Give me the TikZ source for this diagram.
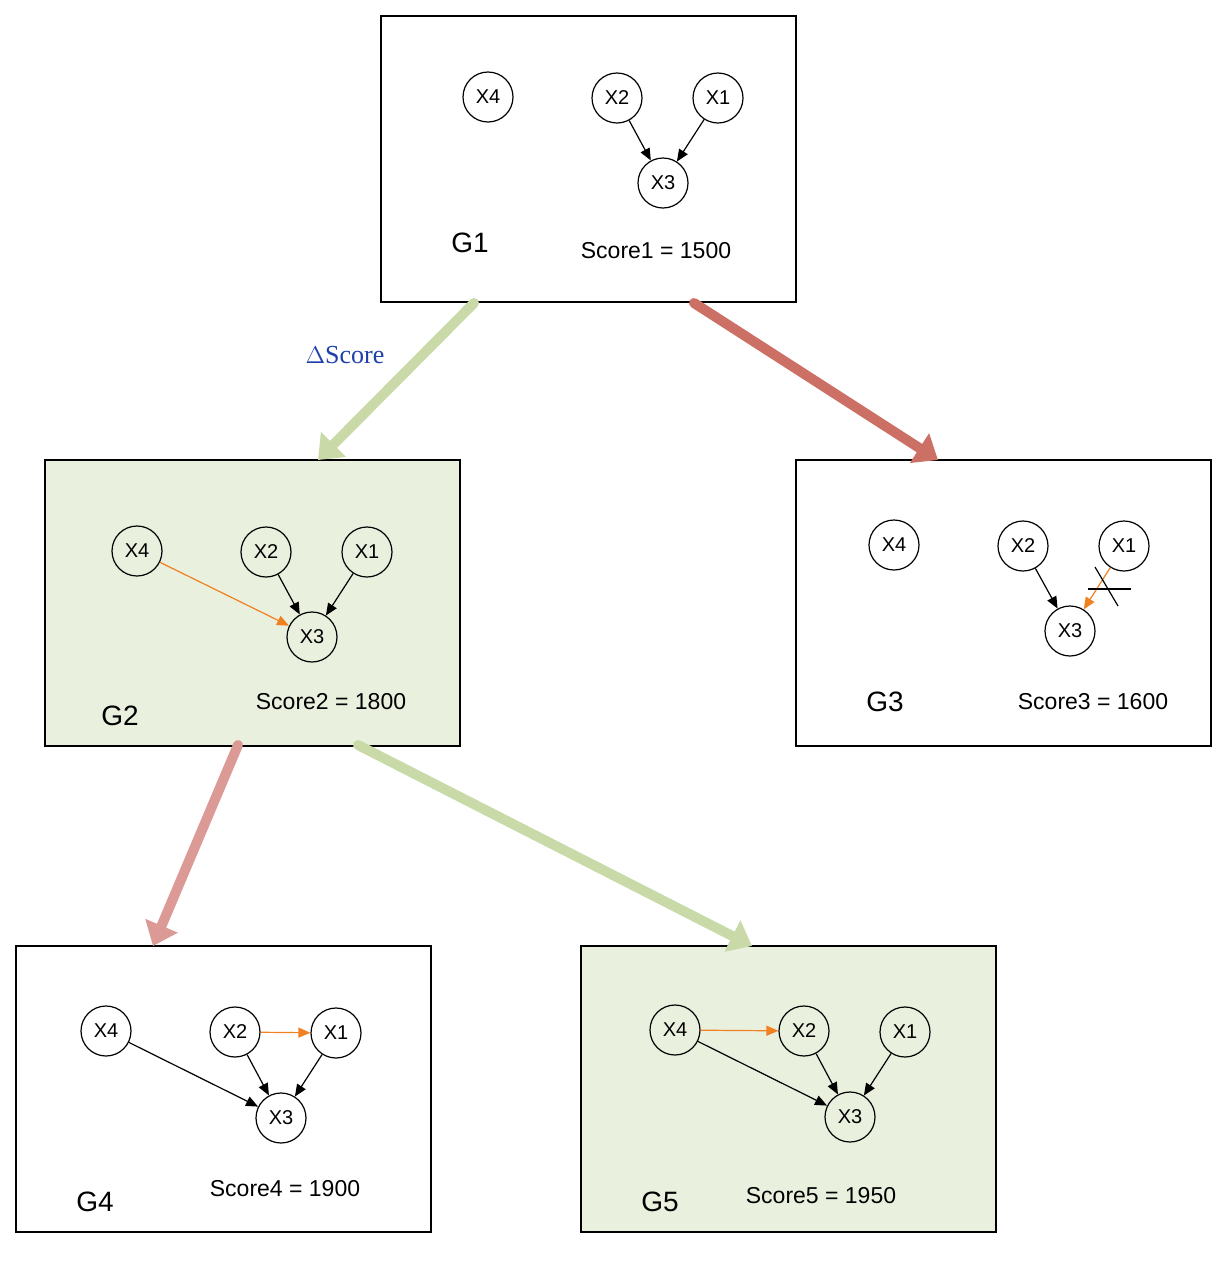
\documentclass[tikz,border=0pt]{standalone}
\usepackage{fontspec}
\setmainfont{Liberation Sans}
\newfontfamily\dserif{Liberation Serif}
\usetikzlibrary{arrows.meta}
\definecolor{gfill}{HTML}{EAF0DE}
\definecolor{ogn}{HTML}{F08020}
\definecolor{bgreen}{HTML}{C9DAA8}
\definecolor{bred}{HTML}{CC7066}
\definecolor{bpink}{HTML}{DB9A96}
\definecolor{dblue}{HTML}{1F3FAA}
\begin{document}
\begin{tikzpicture}[x=0.5pt,y=-0.5pt,
  box/.style={draw=black,line width=0.6pt},
  v/.style={circle,draw,line width=0.6pt,minimum size=25pt,inner sep=0pt,font=\fontsize{10}{12}\selectfont},
  e/.style={-{Triangle[length=6pt,width=5pt]},line width=0.6pt},
  oe/.style={e,draw=ogn,fill=ogn},
  big/.style={line width=5pt,line cap=round,-{Triangle[length=11pt,width=17pt]}},
  glab/.style={font=\fontsize{14}{16}\selectfont},
  slab/.style={font=\fontsize{11.5}{14}\selectfont}]
\useasboundingbox (0,0) rectangle (1229,1275);
% boxes
\node[box,minimum width=207.5pt,minimum height=143pt,inner sep=0pt] (B1) at (588.5,159) {};
\node[box,fill=gfill,minimum width=207.5pt,minimum height=143pt,inner sep=0pt] (B2) at (252.5,603) {};
\node[box,minimum width=207.5pt,minimum height=143pt,inner sep=0pt] (B3) at (1003.5,603) {};
\node[box,minimum width=207.5pt,minimum height=143pt,inner sep=0pt] (B4) at (223.5,1089) {};
\node[box,fill=gfill,minimum width=207.5pt,minimum height=143pt,inner sep=0pt] (B5) at (788.5,1089) {};
% G1
\node[v] (a4) at (488,97) {X4};
\node[v] (a2) at (617,98) {X2};
\node[v] (a1) at (718,98) {X1};
\node[v] (a3) at (663,183) {X3};
\draw[e] (a2) -- (a3); \draw[e] (a1) -- (a3);
\node[glab] (ga) at (470,243) {G1};
\node[slab] (sa) at (656,251) {Score1 = 1500};
% G2
\node[v] (b4) at (137,551) {X4};
\node[v] (b2) at (266,552) {X2};
\node[v] (b1) at (367,552) {X1};
\node[v] (b3) at (312,637) {X3};
\draw[e] (b2) -- (b3); \draw[e] (b1) -- (b3);
\draw[oe] (b4) -- (b3);
\node[glab] (gb) at (120,716) {G2};
\node[slab] (sb) at (331,702) {Score2 = 1800};
% G3
\node[v] (c4) at (894,545) {X4};
\node[v] (c2) at (1023,546) {X2};
\node[v] (c1) at (1124,546) {X1};
\node[v] (c3) at (1070,631) {X3};
\draw[e] (c2) -- (c3);
\draw[oe] (c1) -- (c3);
\coordinate (k1) at (1095,567); \coordinate (k2) at (1118,606);
\coordinate (k3) at (1088,589); \coordinate (k4) at (1131,589);
\draw[line width=0.6pt] (k1) -- (k2); \draw[line width=0.6pt] (k3) -- (k4);
\node[glab] (gc) at (885,702) {G3};
\node[slab] (sc) at (1093,702) {Score3 = 1600};
% G4
\node[v] (d4) at (106,1031) {X4};
\node[v] (d2) at (235,1032) {X2};
\node[v] (d1) at (336,1033) {X1};
\node[v] (d3) at (281,1118) {X3};
\draw[e] (d2) -- (d3); \draw[e] (d1) -- (d3); \draw[e] (d4) -- (d3);
\draw[oe] (d2) -- (d1);
\node[glab] (gd) at (95,1202) {G4};
\node[slab] (sd) at (285,1189) {Score4 = 1900};
% G5
\node[v] (f4) at (675,1030) {X4};
\node[v] (f2) at (804,1031) {X2};
\node[v] (f1) at (905,1032) {X1};
\node[v] (f3) at (850,1117) {X3};
\draw[e] (f2) -- (f3); \draw[e] (f1) -- (f3); \draw[e] (f4) -- (f3);
\draw[oe] (f4) -- (f2);
\node[glab] (gf) at (660,1202) {G5};
\node[slab] (sf) at (821,1196) {Score5 = 1950};
% big arrows
\coordinate (p1) at (474,303); \coordinate (q1) at (318,460);
\coordinate (p2) at (694,303); \coordinate (q2) at (938,460);
\coordinate (p3) at (238,745); \coordinate (q3) at (153,946);
\coordinate (p4) at (358,745); \coordinate (q4) at (752,946);
\draw[big,bgreen] (p1) -- (q1);
\draw[big,bred] (p2) -- (q2);
\draw[big,bpink] (p3) -- (q3);
\draw[big,bgreen] (p4) -- (q4);
\node[text=dblue,font=\dserif\fontsize{13}{15}\selectfont] (ds) at (345,355) {$\Delta$Score};
\end{tikzpicture}
\end{document}
